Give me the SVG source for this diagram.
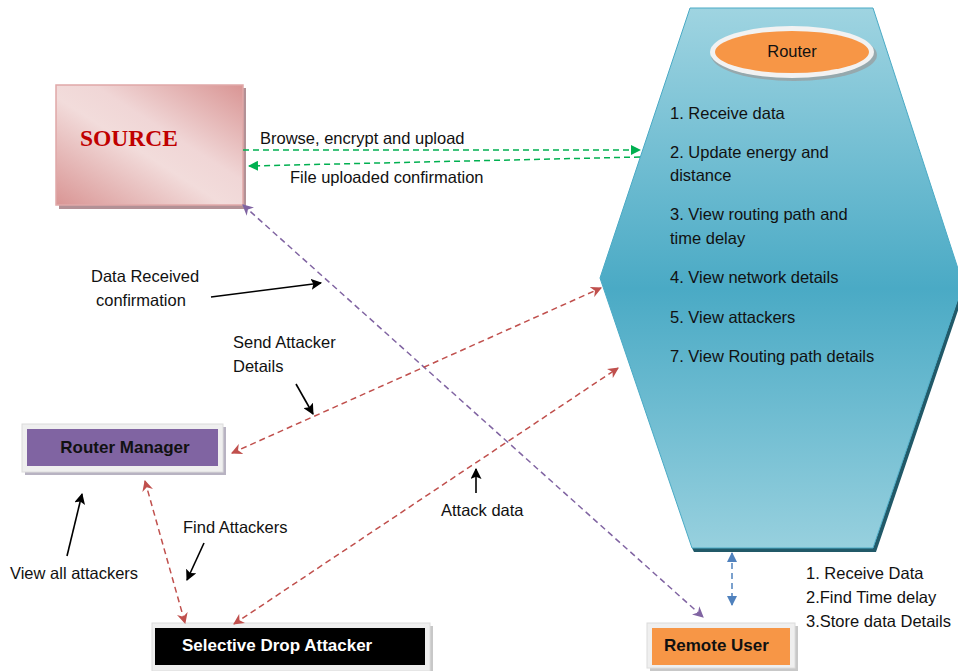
<svg xmlns="http://www.w3.org/2000/svg" width="958" height="671" viewBox="0 0 958 671">
<style>
text{font-family:"Liberation Sans",Arial,sans-serif;fill:#111}
.t{font-size:16.5px}
.b{font-size:17px;font-weight:bold}
.c{fill:none;stroke-width:1.5;stroke-dasharray:6 4}
.k{fill:none;stroke:#000;stroke-width:1.6}
</style>
<defs>
<linearGradient id="src" x1="0" y1="1" x2="1" y2="0">
<stop offset="0" stop-color="#d99594"/>
<stop offset="0.45" stop-color="#f2dcdb"/>
<stop offset="0.6" stop-color="#f0d6d6"/>
<stop offset="1" stop-color="#d99594"/>
</linearGradient>
<linearGradient id="hex" x1="0" y1="0" x2="0" y2="1">
<stop offset="0" stop-color="#9fd4e1"/>
<stop offset="0.52" stop-color="#4aaac5"/>
<stop offset="1" stop-color="#97d0de"/>
</linearGradient>
<marker id="ag" viewBox="0 0 10 10" refX="9" refY="5" markerWidth="10" markerHeight="10" markerUnits="userSpaceOnUse" orient="auto-start-reverse"><path d="M0,0L10,5L0,10z" fill="#00b050"/></marker>
<marker id="ap" viewBox="0 0 10 10" refX="9" refY="5" markerWidth="11" markerHeight="11" markerUnits="userSpaceOnUse" orient="auto-start-reverse"><path d="M0,0L10,5L0,10L3,5z" fill="#8064a2"/></marker>
<marker id="ar" viewBox="0 0 10 10" refX="9" refY="5" markerWidth="11" markerHeight="11" markerUnits="userSpaceOnUse" orient="auto-start-reverse"><path d="M0,0L10,5L0,10L3,5z" fill="#c0504d"/></marker>
<marker id="ab" viewBox="0 0 10 10" refX="9" refY="5" markerWidth="10" markerHeight="10" markerUnits="userSpaceOnUse" orient="auto-start-reverse"><path d="M0,0L10,5L0,10z" fill="#4f81bd"/></marker>
<marker id="ak" viewBox="0 0 10 10" refX="9" refY="5" markerWidth="11" markerHeight="11" markerUnits="userSpaceOnUse" orient="auto"><path d="M0,0L10,5L0,10L2,5z" fill="#000"/></marker>
</defs>
<rect width="958" height="671" fill="#fff"/>

<g id="router">
<polygon points="963,284 966,287 876,552 694,552 692,548 873,548" fill="#215968"/>
<polygon points="690,8 873,8 963,284 873,548 692,548 600,278" fill="url(#hex)" stroke="#4aaac5" stroke-width="1"/>
<ellipse cx="794" cy="55" rx="83" ry="26" fill="#9a9a9a" opacity="0.7"/>
<ellipse cx="792" cy="52" rx="82" ry="26" fill="#f2f2f2"/>
<ellipse cx="792" cy="52" rx="77" ry="21" fill="#f79646"/>
<text class="t" x="792" y="57" text-anchor="middle">Router</text>
<text class="t" x="670" y="119">1. Receive data</text>
<text class="t" x="670" y="158">2. Update energy and</text>
<text class="t" x="670" y="181">distance</text>
<text class="t" x="670" y="220">3. View routing path and</text>
<text class="t" x="670" y="244">time delay</text>
<text class="t" x="670" y="283">4. View network details</text>
<text class="t" x="670" y="323">5. View attackers</text>
<text class="t" x="670" y="362">7. View Routing path details</text>
</g>

<g id="source">
<rect x="59" y="88" width="187" height="121" fill="#b39196"/>
<rect x="56" y="85" width="187" height="120" fill="url(#src)" stroke="#e0a8a8" stroke-width="1.5"/>
<text x="80" y="146" style="font-family:'Liberation Serif',serif;font-weight:bold;font-size:23.5px;fill:#c00000">SOURCE</text>
</g>

<g id="router-manager">
<rect x="25" y="427" width="201" height="48" fill="#b8b3c2"/>
<rect x="22" y="424" width="201" height="48" fill="#efefef" stroke="#dcdcdc"/>
<rect x="27" y="429" width="191" height="37" fill="#8064a2"/>
<text class="b" x="125" y="453" text-anchor="middle">Router Manager</text>
</g>

<g id="selective-drop-attacker">
<rect x="155" y="626" width="278" height="48" fill="#c8c8c8"/>
<rect x="152" y="623" width="278" height="48" fill="#efefef" stroke="#dcdcdc"/>
<rect x="155" y="628" width="270" height="37" fill="#000"/>
<text class="b" x="182" y="651" style="fill:#fff">Selective Drop Attacker</text>
</g>

<g id="remote-user">
<rect x="650" y="626" width="148" height="45" fill="#c8c8c8"/>
<rect x="647" y="623" width="148" height="45" fill="#efefef" stroke="#dcdcdc"/>
<rect x="652" y="628" width="138" height="37" fill="#f79646"/>
<text class="b" x="664" y="651">Remote User</text>
</g>

<g id="remote-notes">
<text class="t" x="806" y="579">1. Receive Data</text>
<text class="t" x="806" y="603">2.Find Time delay</text>
<text class="t" x="806" y="627">3.Store data Details</text>
</g>

<g id="connectors">
<line class="c" x1="243" y1="150" x2="640" y2="150" stroke="#00b050" marker-end="url(#ag)"/>
<line class="c" x1="640" y1="157" x2="249" y2="166" stroke="#00b050" marker-end="url(#ag)"/>
<line class="c" x1="243" y1="205" x2="703" y2="617" stroke="#8064a2" marker-start="url(#ap)" marker-end="url(#ap)"/>
<line class="c" x1="232" y1="453" x2="601" y2="288" stroke="#c0504d" marker-start="url(#ar)" marker-end="url(#ar)"/>
<line class="c" x1="234" y1="624" x2="618" y2="368" stroke="#c0504d" marker-start="url(#ar)" marker-end="url(#ar)"/>
<line class="c" x1="145" y1="481" x2="185" y2="623" stroke="#c0504d" marker-start="url(#ar)" marker-end="url(#ar)"/>
<line class="c" x1="732" y1="553" x2="732" y2="605" stroke="#4f81bd" marker-start="url(#ab)" marker-end="url(#ab)"/>
<line class="k" x1="211" y1="297" x2="321" y2="283" marker-end="url(#ak)"/>
<line class="k" x1="296" y1="384" x2="313" y2="414" marker-end="url(#ak)"/>
<line class="k" x1="476" y1="493" x2="476" y2="469" marker-end="url(#ak)"/>
<line class="k" x1="67" y1="556" x2="82" y2="494" marker-end="url(#ak)"/>
<line class="k" x1="204" y1="543" x2="187" y2="580" marker-end="url(#ak)"/>
</g>

<g id="labels">
<text class="t" x="260" y="144">Browse, encrypt and upload</text>
<text class="t" x="290" y="183">File uploaded confirmation</text>
<text class="t" x="91" y="282">Data Received</text>
<text class="t" x="96" y="306">confirmation</text>
<text class="t" x="233" y="348">Send Attacker</text>
<text class="t" x="233" y="372">Details</text>
<text class="t" x="441" y="516">Attack data</text>
<text class="t" x="183" y="533">Find Attackers</text>
<text class="t" x="10" y="579">View all attackers</text>
</g>
</svg>
